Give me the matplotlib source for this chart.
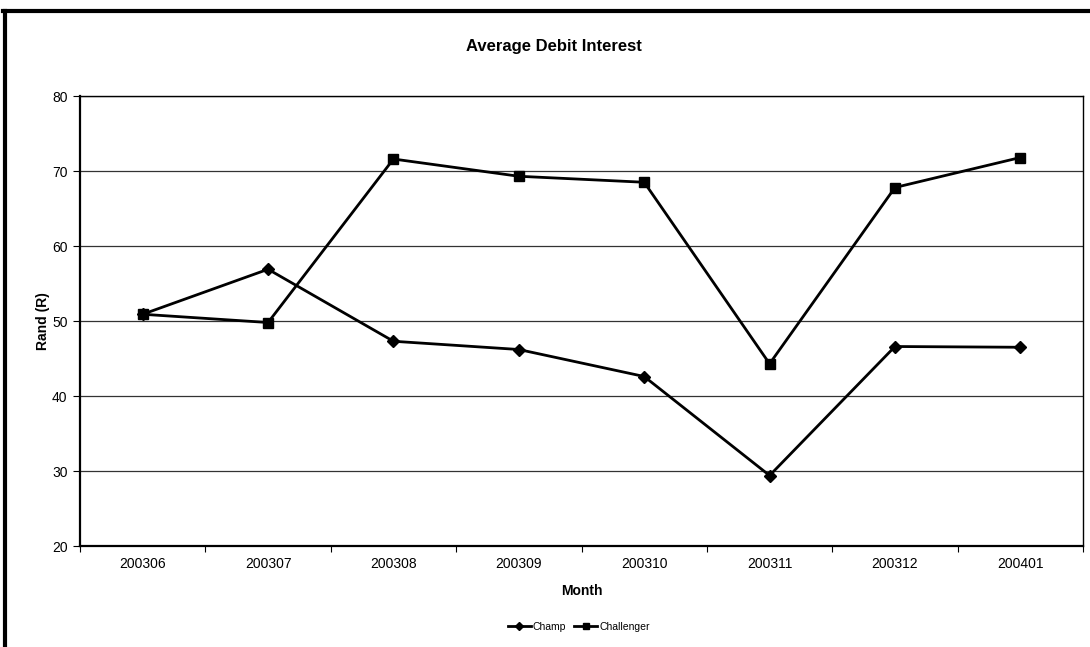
import matplotlib
matplotlib.use("Agg")
import matplotlib.pyplot as plt
from matplotlib.lines import Line2D

plt.rcParams['font.family'] = ['Liberation Sans', 'DejaVu Sans']

months = ["200306", "200307", "200308", "200309", "200310", "200311", "200312", "200401"]
champ = [50.9, 56.9, 47.3, 46.2, 42.6, 29.4, 46.6, 46.5]
challenger = [50.9, 49.8, 71.6, 69.3, 68.5, 44.3, 67.8, 71.8]

fig = plt.figure(figsize=(10.9, 6.47), dpi=100)
ax = fig.add_axes([0.0734, 0.1561, 0.9202, 0.6955])

x = list(range(len(months)))
ax.plot(x, champ, color="black", lw=2.0, marker="D", ms=6, label="Champ", zorder=3)
ax.plot(x, challenger, color="black", lw=2.0, marker="s", ms=7, label="Challenger", zorder=3)

ax.set_xlim(-0.5, len(months) - 0.5)
ax.set_ylim(20, 80)
ax.set_yticks([20, 30, 40, 50, 60, 70, 80])
ax.set_xticks(x)
ax.set_xticklabels(months)
# tick marks sit between categories, labels in the middle
ax.set_xticks([i - 0.5 for i in range(len(months) + 1)], minor=True)
ax.tick_params(axis="x", which="major", length=0, pad=8, labelsize=10)
ax.tick_params(axis="x", which="minor", length=4, width=0.8, direction="out")
ax.tick_params(axis="y", length=5, width=0.8, pad=4, labelsize=10)

ax.yaxis.grid(True, color="#333333", lw=0.9)
ax.set_axisbelow(True)
for s in ax.spines.values():
    s.set_color("black")
    s.set_linewidth(1.0)
ax.spines["left"].set_linewidth(1.6)
ax.spines["bottom"].set_linewidth(1.6)

ax.set_xlabel("Month", fontsize=10, fontweight="bold", labelpad=9)
ax.set_ylabel("Rand (R)", fontsize=10, fontweight="bold", labelpad=1)
fig.text(0.508, 0.928, "Average Debit Interest", ha="center", va="center",
         fontsize=12, fontweight="bold")

handles = [
    Line2D([], [], color="black", lw=2.0, marker="D", ms=4.5),
    Line2D([], [], color="black", lw=2.0, marker="s", ms=5),
]
fig.legend(handles, ["Champ", "Challenger"], loc="center", bbox_to_anchor=(0.531, 0.031),
           ncol=2, frameon=False, fontsize=7.5, handlelength=2.2, handletextpad=0.2,
           columnspacing=0.8)

# chart border
fig.add_artist(Line2D([0.005, 0.005], [0.0, 0.983], transform=fig.transFigure,
                      color="black", lw=3))
fig.add_artist(Line2D([0.003, 1.0], [0.983, 0.983], transform=fig.transFigure,
                      color="black", lw=3))

fig.savefig("out.png", dpi=100)
